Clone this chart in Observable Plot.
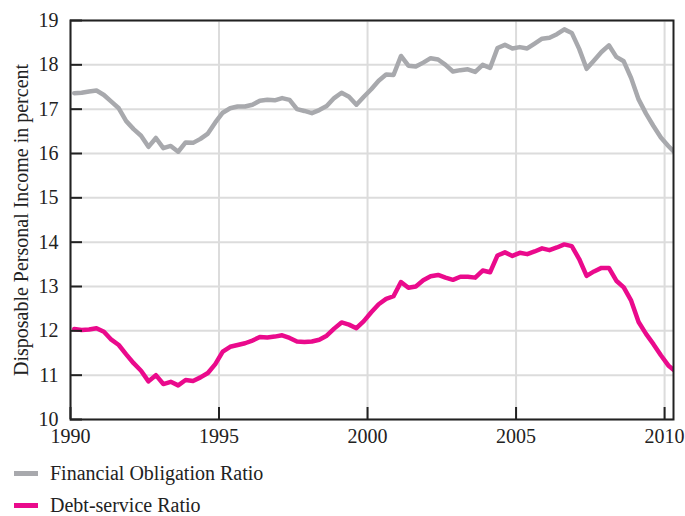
<!DOCTYPE html>
<html>
<head>
<meta charset="utf-8">
<script src="https://cdn.jsdelivr.net/npm/d3@7"></script>
<script src="https://cdn.jsdelivr.net/npm/@observablehq/plot@0.6"></script>
<style>
  body { margin: 0; background: #fff; font-family: "Liberation Serif", "DejaVu Serif", serif; }
  #legend { margin-top: 13px; }
  .item { display: flex; align-items: center; height: 16px; line-height: 16px; margin-bottom: 16px; font-size: 20px; color: #222; }
  .item:last-child { margin-bottom: 0; }
  .sw { width: 24px; height: 5px; margin-left: 14px; margin-right: 12px; }
</style>
</head>
<body>
<div id="chart"></div>
<div id="legend"></div>
<script>
// Quarterly observations, 1990 Q1 .. 2010 Q2
const startYear = 1990;
const seriesNames = ["Financial Obligation Ratio", "Debt-service Ratio"];
const seriesColors = ["#a8a9ad", "#ea0a8c"];
const financialObligation = [
  17.36, 17.37, 17.40, 17.42,
  17.32, 17.17, 17.02, 16.73,
  16.55, 16.40, 16.15, 16.35,
  16.12, 16.17, 16.04, 16.25,
  16.24, 16.33, 16.45, 16.70,
  16.92, 17.02, 17.06, 17.06,
  17.10, 17.19, 17.21, 17.20,
  17.25, 17.21, 17.00, 16.96,
  16.91, 16.98, 17.07, 17.25,
  17.37, 17.28, 17.10, 17.28,
  17.45, 17.64, 17.78, 17.77,
  18.20, 17.98, 17.96, 18.05,
  18.15, 18.12, 18.00, 17.85,
  17.88, 17.90, 17.84, 18.00,
  17.93, 18.38, 18.45, 18.37,
  18.40, 18.37, 18.48, 18.59,
  18.61, 18.69, 18.80, 18.72,
  18.36, 17.91, 18.10, 18.29,
  18.44, 18.18, 18.08, 17.70,
  17.22, 16.90, 16.62, 16.36,
  16.17, 16.00
];
const debtService = [
  12.04, 12.02, 12.03, 12.06,
  11.98, 11.80, 11.68, 11.47,
  11.27, 11.10, 10.86, 11.00,
  10.80, 10.85, 10.77, 10.89,
  10.87, 10.95, 11.05, 11.25,
  11.53, 11.64, 11.68, 11.72,
  11.78, 11.86, 11.85, 11.87,
  11.90, 11.84, 11.76, 11.75,
  11.76, 11.80, 11.89, 12.05,
  12.19, 12.14, 12.06, 12.22,
  12.42, 12.60, 12.72, 12.78,
  13.10, 12.97, 13.00, 13.14,
  13.23, 13.26, 13.20, 13.15,
  13.22, 13.22, 13.20, 13.36,
  13.32, 13.70, 13.77, 13.69,
  13.76, 13.73, 13.79, 13.86,
  13.82, 13.88, 13.95, 13.91,
  13.62, 13.24, 13.34, 13.42,
  13.42, 13.13, 12.98, 12.68,
  12.20, 11.93, 11.70, 11.45,
  11.22, 11.08
];
const xTicks = [1990, 1995, 2000, 2005, 2010];
const yTicks = [10, 11, 12, 13, 14, 15, 16, 17, 18, 19];
const yLabel = "Disposable Personal Income in percent";

const rows = [];
[financialObligation, debtService].forEach((vals, s) => {
  vals.forEach((v, i) => rows.push({series: seriesNames[s], t: startYear + i / 4 + 0.125, v}));
});

const font = "Liberation Serif, DejaVu Serif, serif";
const plot = Plot.plot({
  width: 685,
  height: 452,
  marginLeft: 70,
  marginRight: 12,
  marginTop: 20,
  marginBottom: 33,
  style: {fontFamily: font, fontSize: "19px", color: "#222", background: "#fff", overflow: "visible"},
  x: {domain: [1990, 2010.3]},
  y: {domain: [10, 19]},
  color: {domain: seriesNames, range: seriesColors},
  marks: [
    Plot.gridX(xTicks, {stroke: "#dcdcdc", strokeOpacity: 1, strokeWidth: 2}),
    Plot.gridY(yTicks, {stroke: "#dcdcdc", strokeOpacity: 1, strokeWidth: 2}),
    Plot.line(rows, {x: "t", y: "v", z: "series", stroke: "series", strokeWidth: 4.5, clip: true}),
    Plot.frame({stroke: "#222", strokeWidth: 2}),
    Plot.axisY(yTicks, {tickSize: -12, tickFormat: () => "", strokeWidth: 2, stroke: "#222", label: null}),
    Plot.axisY(yTicks, {tickSize: 0, tickPadding: 12, tickFormat: d => String(d), fontSize: 20,
      label: yLabel, labelAnchor: "center", labelOffset: 57, labelArrow: "none"}),
    Plot.axisX(xTicks, {tickSize: -12, tickFormat: () => "", strokeWidth: 2, stroke: "#222", label: null}),
    Plot.axisX(xTicks, {tickSize: 0, tickPadding: 9, tickFormat: d => String(d), fontSize: 20, label: null})
  ]
});
document.getElementById("chart").appendChild(plot);

const legend = document.getElementById("legend");
seriesNames.forEach((name, i) => {
  const item = document.createElement("div");
  item.className = "item";
  const sw = document.createElement("span");
  sw.className = "sw";
  sw.style.background = seriesColors[i];
  const tx = document.createElement("span");
  tx.textContent = name;
  item.appendChild(sw);
  item.appendChild(tx);
  legend.appendChild(item);
});
</script>
</body>
</html>
